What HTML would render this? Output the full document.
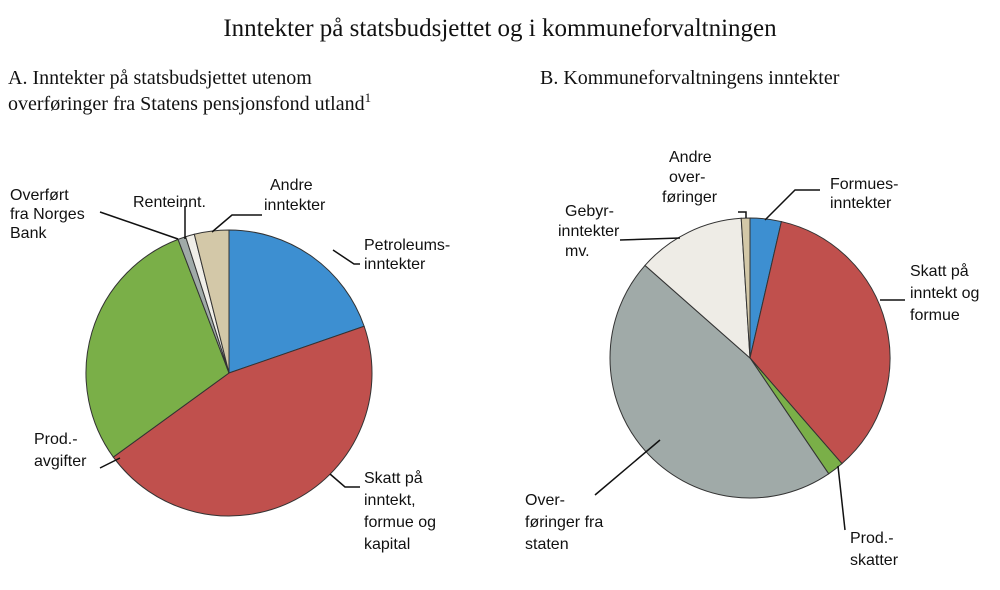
<!DOCTYPE html>
<html><head><meta charset="utf-8"><style>
body{margin:0;background:#fff;}
svg text{font-family:"Liberation Sans",sans-serif;font-size:16px;fill:#111;}
.ser{font-family:"Liberation Serif",serif;}
</style></head><body>
<svg width="1000" height="585" viewBox="0 0 1000 585">
<text class="ser" x="500" y="36" text-anchor="middle" style="font-size:25px">Inntekter på statsbudsjettet og i kommuneforvaltningen</text>
<text class="ser" x="8" y="84" style="font-size:20px">A. Inntekter på statsbudsjettet utenom</text>
<text class="ser" x="8" y="110" style="font-size:20px">overføringer fra Statens pensjonsfond utland<tspan dy="-8" style="font-size:13px">1</tspan></text>
<text class="ser" x="540" y="84" style="font-size:20px">B.  Kommuneforvaltningens inntekter</text>
<g id="pieA"></g>
<g id="pieB"></g>
<g stroke="#111" stroke-width="1.5" fill="none">
<polyline points="333,250 354,264 360,264"/>
<polyline points="212,232 232,215 262,215"/>
<polyline points="185,239 185,206"/>
<polyline points="178,239 100,212"/>
<polyline points="330,474 345,487 360,487"/>
<polyline points="120,458 100,468"/>
<polyline points="765,220 795,190 820,190"/>
<polyline points="880,300 905,300"/>
<polyline points="838,466 845,530"/>
<polyline points="660,440 595,495"/>
<polyline points="680,238 620,240"/>
<polyline points="746,218 746,212 738,212"/>
</g>
<g>
<text x="364" y="250">Petroleums-</text><text x="364" y="269">inntekter</text>
<text x="270" y="190">Andre</text><text x="264" y="210">inntekter</text>
<text x="133" y="207">Renteinnt.</text>
<text x="10" y="200">Overført</text><text x="10" y="219">fra Norges</text><text x="10" y="238">Bank</text>
<text x="34" y="444">Prod.-</text><text x="34" y="466">avgifter</text>
<text x="364" y="483">Skatt på</text><text x="364" y="505">inntekt,</text><text x="364" y="527">formue og</text><text x="364" y="549">kapital</text>
<text x="669" y="162">Andre</text><text x="669" y="182">over-</text><text x="662" y="202">føringer</text>
<text x="565" y="216">Gebyr-</text><text x="558" y="236">inntekter</text><text x="565" y="256">mv.</text>
<text x="830" y="189">Formues-</text><text x="830" y="208">inntekter</text>
<text x="910" y="276">Skatt på</text><text x="910" y="298">inntekt og</text><text x="910" y="320">formue</text>
<text x="850" y="543">Prod.-</text><text x="850" y="565">skatter</text>
<text x="525" y="505">Over-</text><text x="525" y="527">føringer fra</text><text x="525" y="549">staten</text>
</g>
</svg>
<script>
const aNames=["petroleum","skatt","prod-avgifter","norges-bank","renteinnt","andre"];
const aValues=[19.7,45.3,29.2,0.9,1.0,3.9];
const aColors=["#3d8fd1","#c0504d","#7aaf48","#a0aaa8","#f0eee8","#d3c8a8"];
const bNames=["formues","skatt","prod-skatter","overforinger","gebyr","andre-overf"];
const bValues=[3.6,35.0,1.9,46.0,12.5,1.0];
const bColors=["#3d8fd1","#c0504d","#7aaf48","#a0aaa8","#eeece6","#d3c8a8"];
function drawPie(g,names,vals,cols,cx,cy,r){
  const tot=vals.reduce((s,v)=>s+v,0);let a=0;
  vals.forEach((v,i)=>{
    const a0=a/tot*2*Math.PI;a+=v;const a1=a/tot*2*Math.PI;
    const x0=cx+r*Math.sin(a0),y0=cy-r*Math.cos(a0),x1=cx+r*Math.sin(a1),y1=cy-r*Math.cos(a1);
    const p=document.createElementNS("http://www.w3.org/2000/svg","path");
    p.setAttribute("d",`M${cx},${cy}L${x0},${y0}A${r},${r} 0 ${a1-a0>Math.PI?1:0} 1 ${x1},${y1}Z`);
    p.setAttribute("fill",cols[i]);p.setAttribute("stroke","#333");p.setAttribute("stroke-width","1");
    
    
    g.appendChild(p);
  });
}
drawPie(document.getElementById("pieA"),aNames,aValues,aColors,229,373,143);
drawPie(document.getElementById("pieB"),bNames,bValues,bColors,750,358,140);
</script>
</body></html>
